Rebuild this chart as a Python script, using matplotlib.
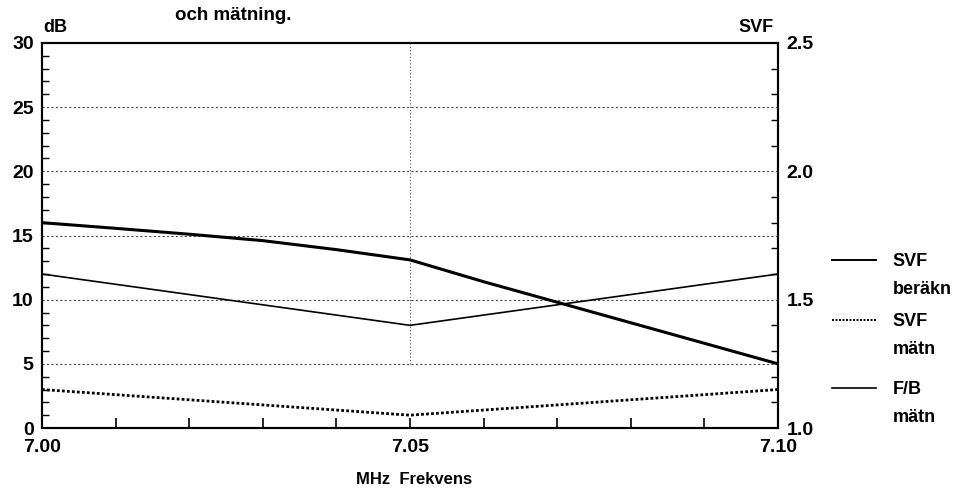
import matplotlib
matplotlib.use("Agg")
import matplotlib.pyplot as plt
import numpy as np

plt.rcParams['font.family'] = ['Liberation Sans', 'DejaVu Sans']
plt.rcParams['font.weight'] = 'bold'

# frekvens (MHz)
frek = [7.00, 7.01, 7.02, 7.03, 7.04, 7.05, 7.06, 7.07, 7.08, 7.09, 7.10]
# SVF beraknad (hoger axel)
svf_berakn = [1.80, 1.778, 1.755, 1.730, 1.695, 1.655, 1.570, 1.490, 1.410, 1.330, 1.250]
# SVF matt (hoger axel)
svf_matn = [1.15, 1.13, 1.11, 1.09, 1.07, 1.05, 1.07, 1.09, 1.11, 1.13, 1.15]
# F/B matt (dB, vanster axel)
fb_frek = [7.00, 7.05, 7.10]
fb_matn = [12.0, 8.0, 12.0]

dB_ticks = [0, 5, 10, 15, 20, 25, 30]
svf_ticks = [1.0, 1.5, 2.0, 2.5]
x_ticks = [7.00, 7.05, 7.10]

fig = plt.figure(figsize=(9.6, 4.93), dpi=100)
ax = fig.add_axes([0.04375, 0.1318, 0.7667, 0.781])
ax2 = ax.twinx()

ax.set_xlim(7.00, 7.10)
ax.set_ylim(0, 30)
ax2.set_ylim(1.0, 2.5)

# rutnat
for v in [5, 10, 15, 20, 25]:
    ax.axhline(v, color='0.3', lw=0.8, ls=(0, (2, 2)), zorder=1)
ax.axvline(7.05, ymin=5/30, color='0.3', lw=0.8, ls=(0, (1, 2)), zorder=1)

# kurvor
ax2.plot(frek, svf_berakn, color='black', lw=2.2, zorder=3)
ax2.plot(frek, svf_matn, color='black', lw=2.0, ls=(0, (1, 0.8)), zorder=3)
ax.plot(fb_frek, fb_matn, color='black', lw=1.2, zorder=3)

# axlar
for a in (ax, ax2):
    for s in a.spines.values():
        s.set_linewidth(1.5)
ax.set_xticks(x_ticks)
ax.set_xticklabels(['7.00', '7.05', '7.10'])
ax.set_xticks(np.arange(7.00, 7.1001, 0.01), minor=True)
ax.set_yticks(dB_ticks)
ax.set_yticks(np.arange(0, 31, 1), minor=True)
ax2.set_yticks(svf_ticks)
ax2.set_yticklabels(['1.0', '1.5', '2.0', '2.5'])
ax2.set_yticks(np.arange(1.0, 2.501, 0.1), minor=True)

ax.tick_params(axis='x', which='both', direction='in', length=7, width=1.2,
               labelsize=14, pad=8)
ax.tick_params(axis='y', which='major', direction='in', length=0,
               labelsize=14, pad=6)
ax.tick_params(axis='y', which='minor', direction='in', length=5, width=1)
ax2.tick_params(axis='y', which='major', direction='in', length=0,
                labelsize=14, pad=6)
ax2.tick_params(axis='y', which='minor', direction='in', length=5, width=1)

fig.text(0.431, 0.027, 'MHz  Frekvens', fontsize=12, ha='center', va='center')

fig.text(0.045, 0.945, 'dB', fontsize=13, ha='left', va='center')
fig.text(0.806, 0.945, 'SVF', fontsize=13, ha='right', va='center')
fig.text(0.182, 0.968, 'och mätning.', fontsize=13.5, ha='left', va='center')

# legend
leg_y = [0.4726, 0.351, 0.213]
leg_ls = ['-', (0, (1, 0.8)), '-']
leg_lw = [1.4, 1.4, 1.2]
leg_t1 = ['SVF', 'SVF', 'F/B']
leg_t2 = ['beräkn', 'mätn', 'mätn']
for yy, ls, lw, t1, t2 in zip(leg_y, leg_ls, leg_lw, leg_t1, leg_t2):
    fig.add_artist(plt.Line2D([0.867, 0.912], [yy, yy], color='black', lw=lw, ls=ls))
    fig.text(0.930, yy - 0.004, t1, fontsize=13, ha='left', va='center')
    fig.text(0.930, yy - 0.060, t2, fontsize=13, ha='left', va='center')

fig.savefig('out.png', dpi=100)
